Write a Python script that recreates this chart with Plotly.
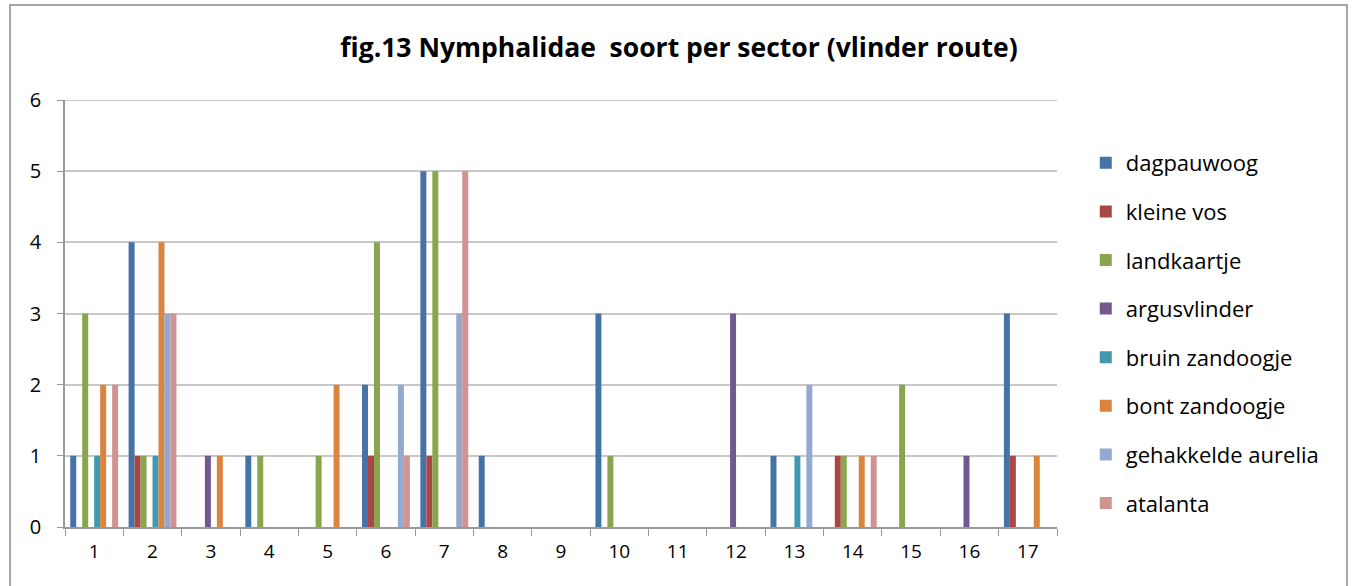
import plotly.graph_objects as go

sectors = [str(i) for i in range(1, 18)]
series_names = ["dagpauwoog", "kleine vos", "landkaartje", "argusvlinder",
                "bruin zandoogje", "bont zandoogje", "gehakkelde aurelia", "atalanta"]

dagpauwoog        = [1, 4, 0, 1, 0, 2, 5, 1, 0, 3, 0, 0, 1, 0, 0, 0, 3]
kleine_vos        = [0, 1, 0, 0, 0, 1, 1, 0, 0, 0, 0, 0, 0, 1, 0, 0, 1]
landkaartje       = [3, 1, 0, 1, 1, 4, 5, 0, 0, 1, 0, 0, 0, 1, 2, 0, 0]
argusvlinder      = [0, 0, 1, 0, 0, 0, 0, 0, 0, 0, 0, 3, 0, 0, 0, 1, 0]
bruin_zandoogje   = [1, 1, 0, 0, 0, 0, 0, 0, 0, 0, 0, 0, 1, 0, 0, 0, 0]
bont_zandoogje    = [2, 4, 1, 0, 2, 0, 0, 0, 0, 0, 0, 0, 0, 1, 0, 0, 1]
gehakkelde_aurelia= [0, 3, 0, 0, 0, 2, 3, 0, 0, 0, 0, 0, 2, 0, 0, 0, 0]
atalanta          = [2, 3, 0, 0, 0, 1, 5, 0, 0, 0, 0, 0, 0, 1, 0, 0, 0]

values = [dagpauwoog, kleine_vos, landkaartje, argusvlinder,
          bruin_zandoogje, bont_zandoogje, gehakkelde_aurelia, atalanta]
colors = ["#4572A7", "#AA4643", "#89A54E", "#71588F",
          "#4198AF", "#DB843D", "#93A9CF", "#D19392"]
y_max = 6

fig = go.Figure()
for i, (name, vals, col) in enumerate(zip(series_names, values, colors)):
    fig.add_trace(go.Bar(x=sectors, y=vals, name=name, marker_color=col,
                         marker_line_width=0, legendgroup=f"g{i}"))

FONT = "Open Sans, Liberation Sans, sans-serif"

fig.update_layout(
    width=1359, height=586,
    margin=dict(l=65, r=302, t=100, b=59),
    paper_bgcolor="white", plot_bgcolor="white",
    barmode="group", bargap=0.18, bargroupgap=0,
    title=dict(text="<b>fig.13 Nymphalidae  soort per sector (vlinder route)</b>",
               x=679 / 1359, xanchor="center", y=1 - 48 / 586, yanchor="middle",
               font=dict(family=FONT, size=26.5, color="#000000")),
    font=dict(family=FONT, size=19, color="#000000"),
    legend=dict(x=1.029, xanchor="left", y=(527 - 142) / 427, yanchor="top",
                traceorder="grouped", tracegroupgap=17,
                font=dict(family=FONT, size=22, color="#000000"),
                bgcolor="rgba(0,0,0,0)"),
    showlegend=True,
)
fig.update_xaxes(type="category", showgrid=False, showline=True, linecolor="#999999",
                 linewidth=1.5, ticks="outside", tickson="boundaries", ticklen=7,
                 tickcolor="#999999", ticklabelstandoff=6,
                 tickfont=dict(family=FONT, size=19))
fig.update_yaxes(range=[0, y_max], dtick=1, showgrid=True,
                 gridcolor="#C8C8C8", gridwidth=2,
                 showline=True, linecolor="#999999", linewidth=1.5, ticks="outside",
                 ticklen=6, tickcolor="#999999", zeroline=False, ticklabelstandoff=12,
                 tickfont=dict(family=FONT, size=20))

# top gridline (plotly hides the gridline at the range edge)
fig.add_shape(type="line", xref="paper", yref="y", x0=0, x1=1, y0=y_max, y1=y_max,
              line=dict(color="#C8C8C8", width=2), layer="below")

fig.add_shape(type="rect", xref="paper", yref="paper",
              x0=(10 - 65) / 992, x1=(1347 - 65) / 992,
              y0=(527 - 590) / 427, y1=(527 - 5) / 427,
              line=dict(color="#8C8C8C", width=1.5), fillcolor="rgba(0,0,0,0)", layer="below")

fig.write_html("out.html", config={"displayModeBar": False},
               post_script="document.body.style.margin='0px';")
